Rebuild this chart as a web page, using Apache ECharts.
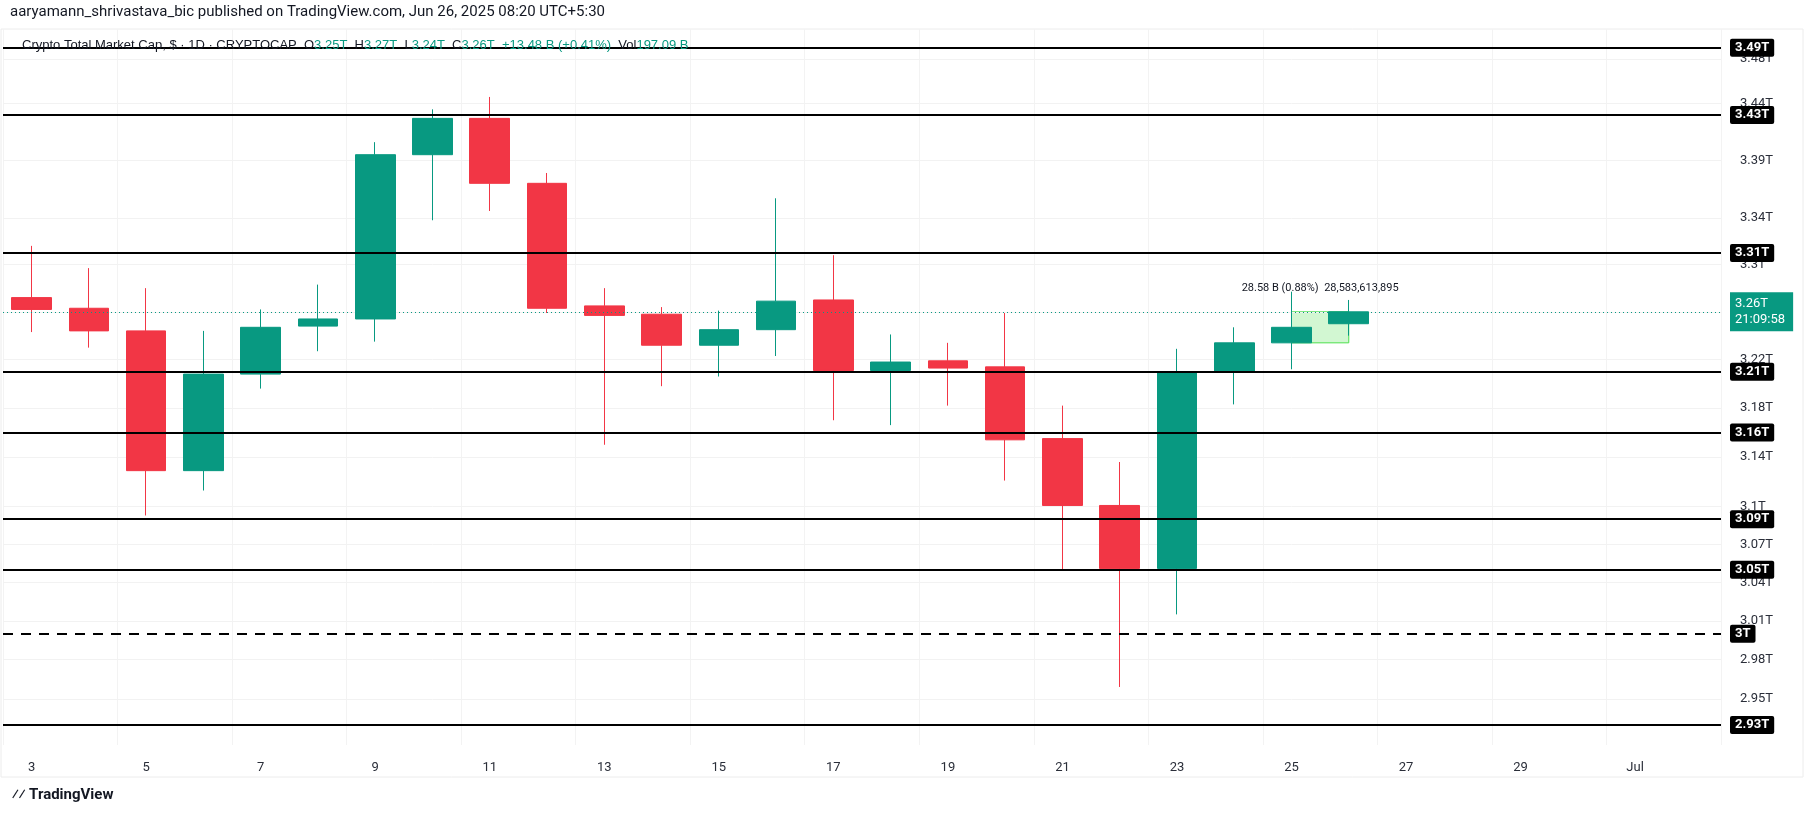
<!DOCTYPE html>
<html>
<head>
<meta charset="utf-8">
<script src="https://cdn.jsdelivr.net/npm/echarts@6/dist/echarts.min.js"></script>
<style>
  html, body { margin: 0; padding: 0; background: #fff; }
  #chart { width: 1814px; height: 816px; }
</style>
</head>
<body>
<div id="chart"></div>
<script>
// days shown on the x axis (June 3 .. July 2)
const days = ['3','4','5','6','7','8','9','10','11','12','13','14','15','16','17','18','19','20',
  '21','22','23','24','25','26','27','28','29','30','Jul','2'];

// daily candles Jun 3..26, in trillions: [open, close, low, high]
const candles = [
  [3.272, 3.262, 3.243, 3.316],
  [3.263, 3.244, 3.230, 3.297],
  [3.244, 3.129, 3.093, 3.280],
  [3.129, 3.208, 3.113, 3.244],
  [3.208, 3.247, 3.196, 3.262],
  [3.248, 3.254, 3.227, 3.283],
  [3.254, 3.395, 3.235, 3.406],
  [3.395, 3.427, 3.338, 3.435],
  [3.427, 3.370, 3.346, 3.446],
  [3.370, 3.263, 3.259, 3.379],
  [3.265, 3.257, 3.150, 3.280],
  [3.258, 3.232, 3.198, 3.264],
  [3.232, 3.245, 3.206, 3.261],
  [3.245, 3.269, 3.223, 3.357],
  [3.270, 3.211, 3.170, 3.308],
  [3.211, 3.218, 3.166, 3.241],
  [3.219, 3.213, 3.182, 3.234],
  [3.214, 3.154, 3.121, 3.259],
  [3.155, 3.101, 3.049, 3.182],
  [3.101, 3.051, 2.959, 3.136],
  [3.051, 3.210, 3.015, 3.229],
  [3.210, 3.234, 3.183, 3.247],
  [3.234, 3.247, 3.212, 3.277],
  [3.250, 3.260, 3.240, 3.270]
];

// price axis labels
const priceTicks = [3.48, 3.44, 3.39, 3.34, 3.3, 3.26, 3.22, 3.18, 3.14, 3.1, 3.07, 3.04, 3.01, 2.98, 2.95, 2.93];
// drawn support / resistance levels
const levels = [3.49, 3.43, 3.31, 3.21, 3.16, 3.09, 3.05, 2.93];
const dashedLevel = 3.00;
const lastPrice = 3.26;

const GREEN = '#089981';
const RED = '#f23645';

const chart = echarts.init(document.getElementById('chart'));

const fmt = (v) => (Math.round(v * 100) / 100) + 'T';

const tickLines = priceTicks.map((v) => ({
  yAxis: v,
  lineStyle: { color: '#f2f2f2', width: 1, type: 'solid' },
  label: { show: true, position: 'end', formatter: fmt(v), color: '#2a2e39', fontSize: 13, distance: 19 }
}));

const boxLabel = (text) => ({
  show: true, position: 'end', formatter: text, color: '#fff', fontSize: 13, fontWeight: 'bold',
  backgroundColor: '#000', padding: [3, 5, 2, 5], borderRadius: 2, distance: 9
});

const levelLines = levels.map((v) => ({
  yAxis: v,
  lineStyle: { color: '#000', width: 2, type: 'solid' },
  label: boxLabel(fmt(v))
}));
levelLines.push({
  yAxis: dashedLevel,
  lineStyle: { color: '#000', width: 2, type: [10, 8] },
  label: boxLabel('3T')
});
levelLines.push({
  yAxis: lastPrice,
  lineStyle: { color: GREEN, width: 1, type: [1, 3] },
  label: {
    show: true, position: 'end', formatter: '3.26T\n21:09:58', color: '#fff', fontSize: 13, lineHeight: 16,
    backgroundColor: GREEN, padding: [4, 8, 3, 5], distance: 9
  }
});

chart.setOption({
  animation: false,
  textStyle: { fontFamily: 'Roboto, "Noto Sans", sans-serif' },
  grid: { left: 3, right: 93, top: 29, bottom: 71 },
  xAxis: {
    type: 'category',
    data: days,
    boundaryGap: true,
    axisLine: { show: false },
    axisTick: { show: false },
    axisLabel: {
      color: '#2a2e39', fontSize: 13, margin: 16,
      interval: (i) => i % 2 === 0
    },
    splitLine: {
      show: true,
      interval: (i) => i % 2 === 0,
      lineStyle: { color: '#f3f3f3' }
    }
  },
  yAxis: {
    type: 'log',
    logBase: 10,
    min: 2.915,
    max: 3.507,
    axisLine: { show: false },
    axisTick: { show: false },
    axisLabel: { show: false },
    splitLine: { show: false }
  },
  graphic: [
    { type: 'rect', shape: { x: 1, y: 29, width: 1802, height: 748 }, style: { fill: 'none', stroke: '#ececec', lineWidth: 1 }, z: -1 },
    { type: 'text', left: 10, top: 5, style: { text: 'aaryamann_shrivastava_bic published on TradingView.com, Jun 26, 2025 08:20 UTC+5:30', fill: '#131722', font: '15px Roboto, sans-serif' } },
    { type: 'text', left: 22, top: 39, z: 5, style: {
      rich: { k: { fill: '#131722', fontSize: 13 }, g: { fill: GREEN, fontSize: 13 } },
      text: '{k|Crypto Total Market Cap, $ · 1D · CRYPTOCAP  O}{g|3.25T}{k|  H}{g|3.27T}{k|  L}{g|3.24T}{k|  C}{g|3.26T  +13.48 B (+0.41%)}{k|  Vol}{g|197.09 B}'
    } },
    { type: 'text', left: 12, top: 788, style: { text: '⁄⁄ TradingView', fill: '#131722', font: 'bold 15px Roboto, sans-serif' } }
  ],
  series: [
    {
      type: 'candlestick',
      data: candles,
      barWidth: '70%',
      itemStyle: { color: GREEN, color0: RED, borderColor: GREEN, borderColor0: RED, borderWidth: 1 },
      markLine: { symbol: 'none', silent: true, z: 1, data: tickLines },
      markArea: {
        silent: true,
        itemStyle: { color: 'rgba(76,224,76,0.25)', borderColor: '#4ce04c', borderWidth: 1 },
        label: { show: true, position: 'top', color: '#131722', fontSize: 11, distance: 18, formatter: '28.58 B (0.88%)  28,583,613,895' },
        data: [[{ xAxis: '25', yAxis: 3.234 }, { xAxis: '26', yAxis: 3.26 }]]
      }
    },
    {
      type: 'line',
      data: [],
      markLine: { symbol: 'none', silent: true, z: 3, data: levelLines }
    }
  ]
});
</script>
</body>
</html>
